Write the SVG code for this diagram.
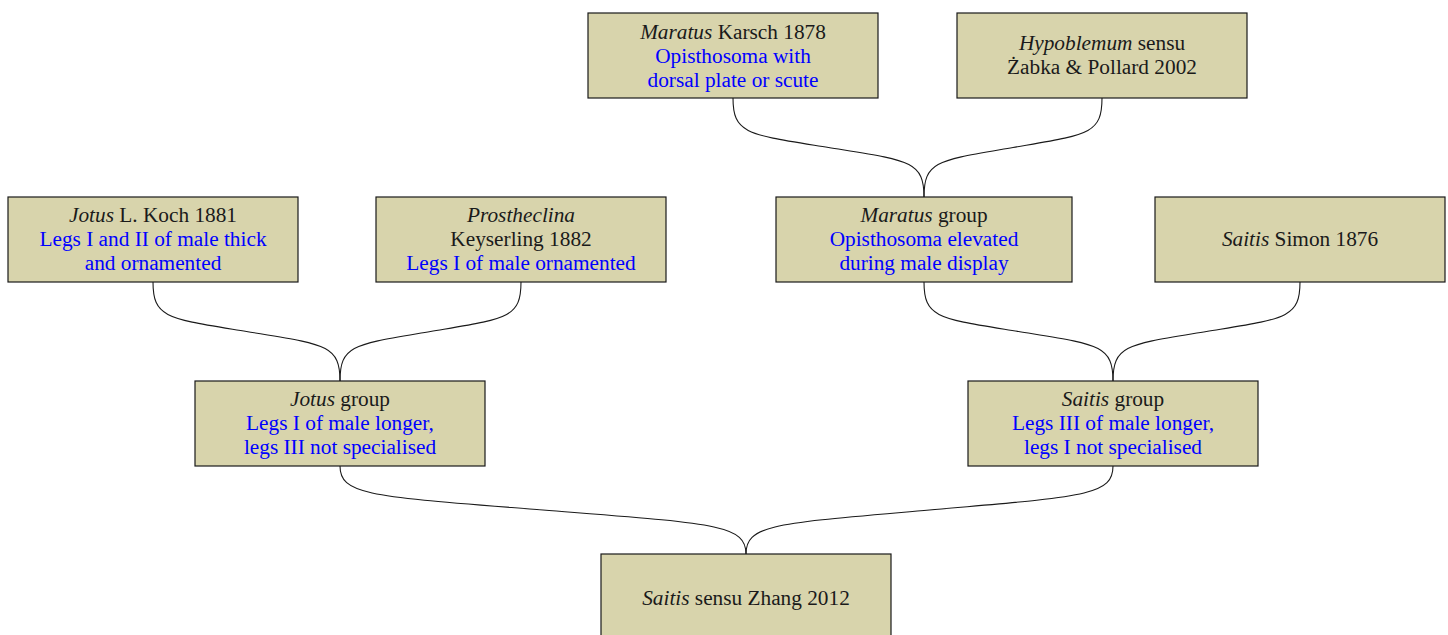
<svg xmlns="http://www.w3.org/2000/svg" width="1448" height="635" viewBox="0 0 1448 635">
<style>
.box{fill:#d8d4ac;stroke:#1a1a1a;stroke-width:1.2}
.t{font-family:"Liberation Serif","Times New Roman",serif;font-size:21.3px;text-anchor:middle;fill:#1a1a1a}
.b{fill:#0000ff}
.i{font-style:italic}
.c{fill:none;stroke:#1a1a1a;stroke-width:1.1}
</style>
<rect width="1448" height="635" fill="#ffffff"/>
<g id="connectors">
<path class="c" d="M733,98 C733,134.6 748.3,134.6 828.5,147.5 S924,160.4 924,197"/>
<path class="c" d="M1102,98 C1102,134.6 1087.8,134.6 1013,147.5 S924,160.4 924,197"/>
<path class="c" d="M153,282 C153,318.6 168,318.6 246.5,331.5 S340,344.4 340,381"/>
<path class="c" d="M521,282 C521,318.6 506.5,318.6 430.5,331.5 S340,344.4 340,381"/>
<path class="c" d="M924,282 C924,318.6 939.1,318.6 1018.5,331.5 S1113,344.4 1113,381"/>
<path class="c" d="M1300,282 C1300,318.6 1285,318.6 1206.5,331.5 S1113,344.4 1113,381"/>
<path class="c" d="M340,466 C340,495.9 372.5,496.4 543,510 S746,524.1 746,554"/>
<path class="c" d="M1113,466 C1113,495.9 1083.6,496.4 929.5,510 S746,524.1 746,554"/>
</g>
<g id="maratus-karsch">
<rect class="box" x="588" y="13" width="290" height="85"/>
<text class="t" x="733" y="39"><tspan class="i">Maratus</tspan> Karsch 1878</text>
<text class="t b" x="733" y="63">Opisthosoma with</text>
<text class="t b" x="733" y="87">dorsal plate or scute</text>
</g>
<g id="hypoblemum">
<rect class="box" x="957" y="13" width="290" height="85"/>
<text class="t" x="1102" y="50"><tspan class="i">Hypoblemum</tspan> sensu</text>
<text class="t" x="1102" y="74">Żabka &amp; Pollard 2002</text>
</g>
<g id="jotus-koch">
<rect class="box" x="8" y="197" width="290" height="85"/>
<text class="t" x="153" y="222"><tspan class="i">Jotus</tspan> L. Koch 1881</text>
<text class="t b" x="153" y="246">Legs I and II of male thick</text>
<text class="t b" x="153" y="270">and ornamented</text>
</g>
<g id="prostheclina">
<rect class="box" x="376" y="197" width="290" height="85"/>
<text class="t i" x="521" y="222">Prostheclina</text>
<text class="t" x="521" y="246">Keyserling 1882</text>
<text class="t b" x="521" y="270">Legs I of male ornamented</text>
</g>
<g id="maratus-group">
<rect class="box" x="776" y="197" width="296" height="85"/>
<text class="t" x="924" y="222"><tspan class="i">Maratus</tspan> group</text>
<text class="t b" x="924" y="246">Opisthosoma elevated</text>
<text class="t b" x="924" y="270">during male display</text>
</g>
<g id="saitis-simon">
<rect class="box" x="1155" y="197" width="290" height="85"/>
<text class="t" x="1300" y="246"><tspan class="i">Saitis</tspan> Simon 1876</text>
</g>
<g id="jotus-group">
<rect class="box" x="195" y="381" width="290" height="85"/>
<text class="t" x="340" y="406"><tspan class="i">Jotus</tspan> group</text>
<text class="t b" x="340" y="430">Legs I of male longer,</text>
<text class="t b" x="340" y="454">legs III not specialised</text>
</g>
<g id="saitis-group">
<rect class="box" x="968" y="381" width="290" height="85"/>
<text class="t" x="1113" y="406"><tspan class="i">Saitis</tspan> group</text>
<text class="t b" x="1113" y="430">Legs III of male longer,</text>
<text class="t b" x="1113" y="454">legs I not specialised</text>
</g>
<g id="saitis-zhang">
<rect class="box" x="601" y="554" width="290" height="90"/>
<text class="t" x="746" y="605"><tspan class="i">Saitis</tspan> sensu Zhang 2012</text>
</g>
</svg>
